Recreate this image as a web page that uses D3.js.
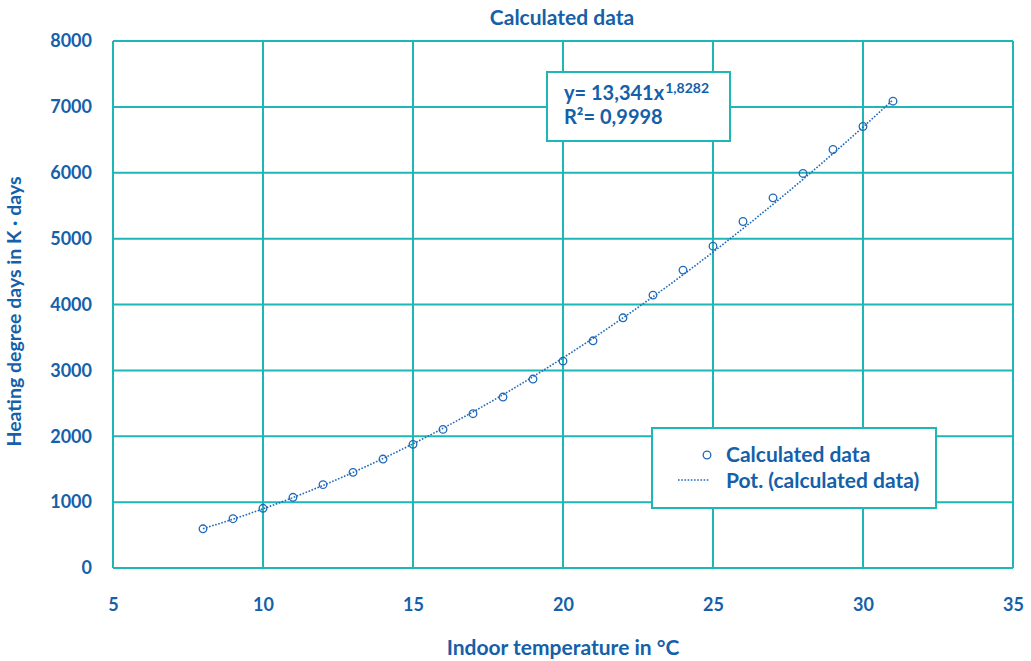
<!DOCTYPE html>
<html>
<head>
<meta charset="utf-8">
<script src="https://cdn.jsdelivr.net/npm/d3@7/dist/d3.min.js"></script>
<style>
  html, body { margin: 0; padding: 0; background: #fff; }
  svg { display: block; font-family: Lato, "Open Sans", sans-serif; font-weight: 700; }
</style>
</head>
<body>
<svg id="chart" width="1031" height="661"></svg>
<script>
// Indoor temperature (°C) and the resulting heating degree days (K·days)
const temperatures = [8, 9, 10, 11, 12, 13, 14, 15, 16, 17, 18, 19, 20, 21, 22, 23, 24, 25, 26, 27, 28, 29, 30, 31];
const degreeDays = [595, 748, 906, 1073, 1265, 1452, 1654, 1877, 2104, 2342, 2595, 2868, 3141, 3449,
                    3798, 4143, 4522, 4886, 5260, 5619, 5989, 6353, 6702, 7086];

// Power trend line y = a · x^b, as given in the equation label
const trendCoefA = 13.341;
const trendCoefB = 1.8282;
const trendR2 = "0,9998";

const xTicks = [5, 10, 15, 20, 25, 30, 35];
const yTicks = [0, 1000, 2000, 3000, 4000, 5000, 6000, 7000, 8000];

const textBlue = "#1460a9";
const gridTeal = "#1fb6b6";
const markBlue = "#1f69b8";

const svg = d3.select("#chart");
const plot = { left: 113, right: 1013, top: 41, bottom: 568 };

const x = d3.scaleLinear().domain([5, 35]).range([plot.left, plot.right]);
const y = d3.scaleLinear().domain([0, 8000]).range([plot.bottom, plot.top]);

// Grid lines
const grid = svg.append("g");
grid.selectAll("line.v").data(xTicks).join("line")
  .attr("x1", d => x(d)).attr("x2", d => x(d))
  .attr("y1", plot.top).attr("y2", plot.bottom)
  .attr("stroke", gridTeal).attr("stroke-width", 2);
grid.selectAll("line.h").data(yTicks).join("line")
  .attr("x1", plot.left).attr("x2", plot.right)
  .attr("y1", d => y(d)).attr("y2", d => y(d))
  .attr("stroke", gridTeal).attr("stroke-width", 2);

// Axes (labels only)
const xAxis = svg.append("g")
  .attr("transform", `translate(0,${plot.bottom + 27})`)
  .call(d3.axisBottom(x).tickValues(xTicks).tickSize(0).tickFormat(d3.format("d")));
xAxis.select(".domain").remove();
xAxis.selectAll("text").attr("fill", textBlue).attr("font-size", 18)
  .attr("font-family", "Lato, sans-serif").attr("font-weight", 700);

const yAxis = svg.append("g")
  .attr("transform", `translate(${plot.left - 18},0)`)
  .call(d3.axisLeft(y).tickValues(yTicks).tickSize(0).tickFormat(d3.format("d")));
yAxis.select(".domain").remove();
yAxis.selectAll("text").attr("fill", textBlue).attr("font-size", 18)
  .attr("font-family", "Lato, sans-serif").attr("font-weight", 700);

// Titles
svg.append("text").attr("x", 562).attr("y", 25).attr("text-anchor", "middle")
  .attr("fill", textBlue).attr("font-size", 21).text("Calculated data");
svg.append("text").attr("x", 563).attr("y", 655).attr("text-anchor", "middle")
  .attr("fill", textBlue).attr("font-size", 21).text("Indoor temperature in °C");
svg.append("text")
  .attr("transform", `translate(21,${(plot.top + plot.bottom) / 2 + 7}) rotate(-90)`)
  .attr("text-anchor", "middle").attr("fill", textBlue).attr("font-size", 19.5)
  .text("Heating degree days in K · days");

// Trend line through the fitted values at each temperature
const trend = temperatures.map(t => [t, trendCoefA * Math.pow(t, trendCoefB)]);
svg.append("path").datum(trend)
  .attr("fill", "none").attr("stroke", markBlue).attr("stroke-width", 1.6)
  .attr("stroke-dasharray", "1.6,1.6")
  .attr("d", d3.line().x(d => x(d[0])).y(d => y(d[1])).curve(d3.curveMonotoneX));

// Data markers
svg.append("g").selectAll("circle").data(temperatures).join("circle")
  .attr("cx", d => x(d)).attr("cy", (d, i) => y(degreeDays[i])).attr("r", 3.8)
  .attr("fill", "none").attr("stroke", markBlue).attr("stroke-width", 1.3);

// Equation label
const eq = svg.append("g");
eq.append("rect").attr("x", 547).attr("y", 72).attr("width", 183).attr("height", 69)
  .attr("fill", "#fff").attr("stroke", gridTeal).attr("stroke-width", 2);
const eqLine = eq.append("text").attr("x", 564).attr("y", 100).attr("fill", textBlue).attr("font-size", 20);
eqLine.append("tspan").text("y= " + String(trendCoefA).replace(".", ",") + "x");
eqLine.append("tspan").attr("dx", 1).attr("dy", -7).attr("font-size", 14)
  .text(String(trendCoefB).replace(".", ","));
eq.append("text").attr("x", 564).attr("y", 124).attr("fill", textBlue).attr("font-size", 20)
  .text("R²= " + trendR2);

// Legend
const lg = svg.append("g");
lg.append("rect").attr("x", 652).attr("y", 428).attr("width", 284).attr("height", 80)
  .attr("fill", "#fff").attr("stroke", gridTeal).attr("stroke-width", 2);
lg.append("circle").attr("cx", 707).attr("cy", 455).attr("r", 3.8)
  .attr("fill", "none").attr("stroke", markBlue).attr("stroke-width", 1.3);
lg.append("line").attr("x1", 678).attr("x2", 710).attr("y1", 480).attr("y2", 480)
  .attr("stroke", markBlue).attr("stroke-width", 1.6).attr("stroke-dasharray", "1.6,1.6");
lg.append("text").attr("x", 726).attr("y", 462).attr("fill", textBlue).attr("font-size", 21)
  .text("Calculated data");
lg.append("text").attr("x", 726).attr("y", 488).attr("fill", textBlue).attr("font-size", 21)
  .text("Pot. (calculated data)");
</script>
</body>
</html>
